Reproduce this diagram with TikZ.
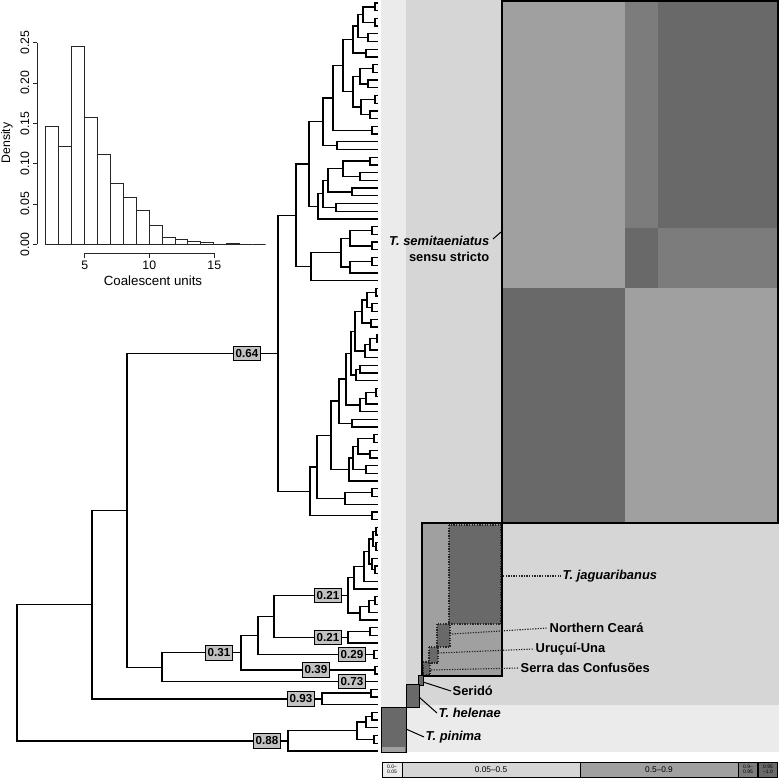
\documentclass[tikz,border=0pt]{standalone}
\usepackage{fontspec}
\setmainfont{Liberation Sans}
\definecolor{hmA}{HTML}{EBEBEB}
\definecolor{hmB}{HTML}{D6D6D6}
\definecolor{hmC}{HTML}{A0A0A0}
\definecolor{hmD}{HTML}{7C7C7C}
\definecolor{hmE}{HTML}{696969}
\definecolor{lbl}{HTML}{C2C2C2}
\begin{document}
\begin{tikzpicture}[x=1pt,y=-1pt,
  br/.style={line width=1.3pt},
  bl/.style={draw=black, line width=0.9pt, fill=lbl, inner xsep=2.4pt, inner ysep=0pt,
    minimum height=14.5pt, font=\fontsize{11.6}{11.6}\selectfont\bfseries},
  sp/.style={font=\fontsize{12.9}{14}\selectfont\bfseries\itshape, inner sep=1.5pt},
  pl/.style={font=\fontsize{12.9}{14}\selectfont\bfseries, inner sep=1.5pt},
  blk/.style={draw=black, line width=1.3pt},
  thin/.style={draw=black, line width=0.9pt},
  dotb/.style={draw=black!85, line width=1.3pt, dash pattern=on 1.3pt off 1.3pt},
  dotl/.style={draw=black!85, line width=1.1pt, dash pattern=on 1.3pt off 1.3pt},
  lead/.style={draw=black, line width=1pt},
  lg/.style={draw=black, line width=0.7pt, minimum height=15pt, inner sep=0pt, align=center},
  hb/.style={draw=black!85, line width=0.9pt},
  ht/.style={font=\fontsize{12.3}{12.3}\selectfont, inner sep=0pt}]
\useasboundingbox (0,0) rectangle (779,778);

% ---------------- heat map ----------------
\fill[hmA] (381,0) rectangle (779,752);
\fill[hmB] (406,0) rectangle (779,705);
% T. semitaeniatus block
\fill[hmC] (502,0) rectangle (625,288);
\fill[hmD] (625,0) rectangle (658,228);
\fill[hmE] (658,0) rectangle (779,228);
\fill[hmE] (625,228) rectangle (658,288);
\fill[hmD] (658,228) rectangle (779,288);
\fill[hmE] (502,288) rectangle (625,523);
\fill[hmC] (625,288) rectangle (779,523);
\draw[blk] (502,1) rectangle (778,523);
% jaguaribanus group
\fill[hmC] (422,523) rectangle (502,676);
\fill[hmE] (449,525) rectangle (502,624);
\fill[hmE] (437,624) rectangle (450,647);
\fill[hmE] (429,647) rectangle (438,663);
\fill[hmE] (423,662) rectangle (430,675);
\draw[dotb] (449,525) rectangle (501,624);
\draw[dotb] (437,624) rectangle (450,647);
\draw[dotb] (429,647) rectangle (438,663);
\draw[dotb] (423,662) rectangle (430,675);
\draw[blk] (422,523) rectangle (502,676);
% Serido, helenae, pinima
\fill[hmE] (418,675) rectangle (423,685);
\draw[thin] (418,675) rectangle (423,685);
\fill[hmE] (406,684) rectangle (419,707);
\draw[thin] (406,684) rectangle (419,707);
\fill[hmE] (381,707) rectangle (406,752);
\fill[hmC] (382,747) rectangle (405,752);
\draw[thin] (381.5,707) rectangle (406,752);

% labels of the heat map
\node[sp, anchor=east] (lsemi) at (491,241) {T. semitaeniatus};
\node[pl, anchor=east] (lsemi2) at (491,257) {sensu stricto};
\coordinate (semiA) at (493,239);
\coordinate (semiB) at (501,232);
\draw[lead] (semiA) -- (semiB);

\node[sp, anchor=west] (ljag) at (561,576) {T. jaguaribanus};
\coordinate (jagB) at (503,576);
\draw[dotl] (jagB) -- (ljag.west);

\node[pl, anchor=west] (lnc) at (548,628) {Northern Ceará};
\coordinate (ncB) at (452,634);
\draw[dotl] (ncB) -- (lnc.west);

\node[pl, anchor=west] (luu) at (534,649) {Uruçuí-Una};
\coordinate (uuB) at (438,653);
\draw[dotl] (uuB) -- (luu.west);

\node[pl, anchor=west] (lsdc) at (519,668) {Serra das Confusões};
\coordinate (sdcB) at (431,670);
\draw[dotl] (sdcB) -- (lsdc.west);

\node[pl, anchor=west] (lser) at (451,691) {Seridó};
\coordinate (serB) at (423,682);
\draw[lead] (serB) -- (lser.west);

\node[sp, anchor=west] (lhel) at (437,713) {T. helenae};
\coordinate (helB) at (419,697);
\draw[lead] (helB) -- (lhel.west);

\node[sp, anchor=west] (lpin) at (424,737) {T. pinima};
\coordinate (pinB) at (406,729);
\draw[lead] (pinB) -- (lpin.west);

% legend bar
\node[lg, fill=hmA, minimum width=20pt, font=\fontsize{5}{5.2}\selectfont] (lg1) at (392,769.5) {0.0–\\0.05};
\node[lg, fill=hmB, minimum width=178pt, font=\fontsize{8.3}{8.3}\selectfont] (lg2) at (491,769.5) {0.05–0.5};
\node[lg, fill=hmC, minimum width=158pt, font=\fontsize{8.3}{8.3}\selectfont] (lg3) at (659,769.5) {0.5–0.9};
\node[lg, fill=hmD, minimum width=19pt, font=\fontsize{5}{5.2}\selectfont] (lg4) at (748,769.5) {0.9–\\0.95};
\node[lg, fill=hmE, minimum width=19pt, font=\fontsize{5}{5.2}\selectfont] (lg5) at (768,769.5) {0.95\\–1.0};

% ---------------- tree ----------------
\begin{scope}[y=-7.711pt, yshift=-3pt]
\foreach \i in {0,...,97} \coordinate (t\i) at (378,\i);
\foreach \nm/\xx/\yy in {
 c0/375/0.5, c2/375/2.5, SAh/363/1.5, c4/368/4.5, SAg/358/3, c6/366/6.5, SAe/353/4.75,
 c8/373/8.5, c10/368/10.5, SAi/360/9.5, c12/375/12.5, c14/370/14.5, SAj/361/13.5,
 SAf/353/11.5, SAd/343/8.125, c16/372/16.5, SAc/333/12.31, c18/337/18.5, SAa/323/15.41,
 c20/370/20.5, c22/360/22.5, SAn/343/21.5, c24/352/24.5, SAl/328/23, c26/336/26.5,
 SAk/323/24.75, SAb/318/26.375, SAone/309/20.89, c29/372/29.5, c31/372/31.5, SAtb/350/30.5,
 c33/372/33.5, SAtc/350/34.25, SAta/341/32.375, SAtwo/311/34.19, SA/296/27.54,
 c37/376/37.5, c39/372/39.5, SBj/367/38.5, c41/371/41.5, SBh/362/40, c43/377/43.5,
 SBk/370/44.25, SBi/365/45.125, SBf/355/42.56, c47/360/47.5, SBg/356/48.25, SBc/351/45.41,
 c50/376/50.5, SBe/366/51.25, SBd/360/52.125, SBa/346/48.77, c54/352/54.5, SBthree/339/51.63,
 c56/374/56.5, c58/370/58.5, SBsix/358/57.5, c60/366/60.5, SBfive/353/59, SBfour/349/60.5,
 SBtwo/331/56.07, c63/372/63.5, SBoneb/345/64.25, SBone/317/60.16, c66/372/66.5, SB/310/63.33,
 SEMI/278/45.43,
 c68/376/68.5, c70/376/70.5, JAthree/373/69.5, c73/375/73.5, JAfour/372/72.75, JAtwo/369/71.125,
 JAone/364/73.06, JA/354/74.53, c77/375/77.5, JBone/369/78.25, JB/360/79.125, JAG/348/76.83,
 c81/370/81.5, NC/348/82.25, Jthree/274/79.54, c84/374/84.5, Jtwo/258/82.02, c86/375/86.5,
 Jone/241/84.26, Jzero/162/86.13, Szero/127/65.78, c89/371/89.5, HEL/322/90.25, MAIN/92/78.02,
 c92/372/92.5, Ptwo/366/93.25, c95/374/95.5, Pone/357/94.375, Pzero/288/95.69, ROOT/17/86.85}
 \coordinate (\nm) at (\xx,\yy);
\foreach \p/\c in {
 c0/t0, c0/t1, c2/t2, c2/t3, SAh/c0, SAh/c2, c4/t4, c4/t5, SAg/SAh, SAg/c4, c6/t6, c6/t7,
 SAe/SAg, SAe/c6, c8/t8, c8/t9, c10/t10, c10/t11, SAi/c8, SAi/c10, c12/t12, c12/t13,
 c14/t14, c14/t15, SAj/c12, SAj/c14, SAf/SAi, SAf/SAj, SAd/SAe, SAd/SAf, c16/t16, c16/t17,
 SAc/SAd, SAc/c16, c18/t18, c18/t19, SAa/SAc, SAa/c18, c20/t20, c20/t21, c22/t22, c22/t23,
 SAn/c20, SAn/c22, c24/t24, c24/t25, SAl/SAn, SAl/c24, c26/t26, c26/t27, SAk/SAl, SAk/c26,
 SAb/SAk, SAb/t28, SAone/SAa, SAone/SAb, c29/t29, c29/t30, c31/t31, c31/t32, SAtb/c29, SAtb/c31,
 c33/t33, c33/t34, SAtc/c33, SAtc/t35, SAta/SAtb, SAta/SAtc, SAtwo/SAta, SAtwo/t36,
 SA/SAone, SA/SAtwo,
 c37/t37, c37/t38, c39/t39, c39/t40, SBj/c37, SBj/c39, c41/t41, c41/t42, SBh/SBj, SBh/c41,
 c43/t43, c43/t44, SBk/c43, SBk/t45, SBi/SBk, SBi/t46, SBf/SBh, SBf/SBi, c47/t47, c47/t48,
 SBg/c47, SBg/t49, SBc/SBf, SBc/SBg, c50/t50, c50/t51, SBe/c50, SBe/t52, SBd/SBe, SBd/t53,
 SBa/SBc, SBa/SBd, c54/t54, c54/t55, SBthree/SBa, SBthree/c54, c56/t56, c56/t57, c58/t58,
 c58/t59, SBsix/c56, SBsix/c58, c60/t60, c60/t61, SBfive/SBsix, SBfive/c60, SBfour/SBfive,
 SBfour/t62, SBtwo/SBthree, SBtwo/SBfour, c63/t63, c63/t64, SBoneb/c63, SBoneb/t65,
 SBone/SBtwo, SBone/SBoneb, c66/t66, c66/t67, SB/SBone, SB/c66, SEMI/SA, SEMI/SB,
 c68/t68, c68/t69, c70/t70, c70/t71, JAthree/c68, JAthree/c70, c73/t73, c73/t74,
 JAfour/t72, JAfour/c73, JAtwo/JAthree, JAtwo/JAfour, JAone/JAtwo, JAone/t75, JA/JAone, JA/t76,
 c77/t77, c77/t78, JBone/c77, JBone/t79, JB/JBone, JB/t80, JAG/JA, JAG/JB, c81/t81, c81/t82,
 NC/c81, NC/t83, Jthree/JAG, Jthree/NC, c84/t84, c84/t85, Jtwo/Jthree, Jtwo/c84, c86/t86,
 c86/t87, Jone/Jtwo, Jone/c86, Jzero/Jone, Jzero/t88, Szero/SEMI, Szero/Jzero, c89/t89,
 c89/t90, HEL/c89, HEL/t91, MAIN/Szero, MAIN/HEL, c92/t92, c92/t93, Ptwo/c92, Ptwo/t94,
 c95/t95, c95/t96, Pone/Ptwo, Pone/c95, Pzero/Pone, Pzero/t97, ROOT/MAIN, ROOT/Pzero}
 \draw[br] (\p) |- (\c);
% support values
\node[bl] (b064) at (247,45.43) {0.64};
\node[bl] (b021a) at (328,76.83) {0.21};
\node[bl] (b021b) at (328,82.25) {0.21};
\node[bl] (b031) at (219,84.26) {0.31};
\node[bl] (b029) at (352,84.5) {0.29};
\node[bl] (b039) at (316,86.5) {0.39};
\node[bl] (b073) at (352,88) {0.73};
\node[bl] (b093) at (301,90.25) {0.93};
\node[bl] (b088) at (267,95.69) {0.88};
\end{scope}

% ---------------- histogram inset ----------------
\begin{scope}[shift={(19.84,244.3)}, x=12.93pt, y=806.7pt]
\foreach \v/\d in {2/0.146, 3/0.121, 4/0.245, 5/0.157, 6/0.111, 7/0.076, 8/0.0575, 9/0.0425,
  10/0.023, 11/0.0087, 12/0.0066, 13/0.0037, 14/0.0025, 15/0, 16/0.0008, 17/0, 18/0}
  \draw[hb] (\v,0) rectangle ({\v+1},\d);
\end{scope}
\draw[hb] (37.3,244.3) -- (37.3,42.6);
\foreach \yy/\tl in {244.3/0.00, 204/0.05, 163.6/0.10, 123.3/0.15, 83/0.20, 42.6/0.25} {
  \draw[hb] (37.3,\yy) -- (33,\yy);
  \node[ht, rotate=90] at (25,\yy) {\tl};
}
\node[ht, rotate=90] (ylab) at (7,143) {Density};
\draw[hb] (84.7,253.3) -- (214.3,253.3);
\foreach \xx/\tl in {84.7/5, 149.3/10, 214.3/15} {
  \draw[hb] (\xx,253.3) -- (\xx,257.5);
  \node[ht] at (\xx,265.5) {\tl};
}
\node[ht, font=\fontsize{13.3}{13.3}\selectfont] (xlab) at (153,281) {Coalescent units};
\end{tikzpicture}
\end{document}
